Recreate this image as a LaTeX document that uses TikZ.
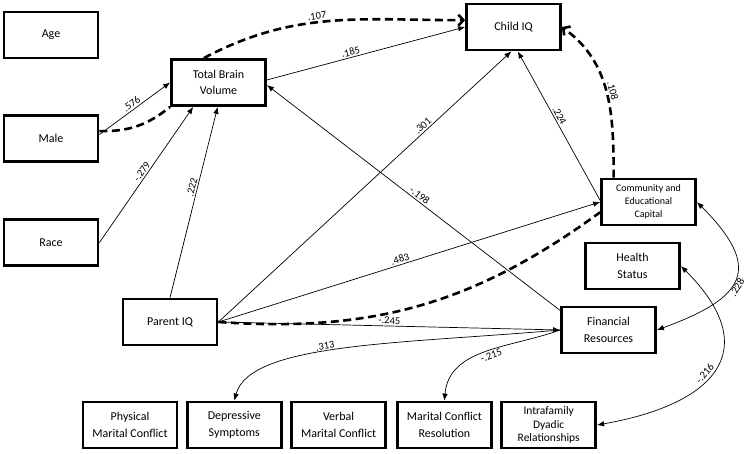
\documentclass[tikz,border=0pt]{standalone}
\usepackage{fontspec}
\setmainfont{Carlito}
\usetikzlibrary{arrows.meta, positioning}
\tikzset{
  sem/box/.style={rectangle, draw=black, fill=white, line width=2.8pt,
    minimum width=94pt, minimum height=46pt, align=center, inner sep=1pt,
    font=\fontsize{12}{16.5}\selectfont},
  sem/small/.style={font=\fontsize{10}{12.7}\selectfont},
  sem/three/.style={font=\fontsize{11.5}{13.5}\selectfont},
  sem/arr/.style={-{Latex[length=7pt,width=5.5pt]}, line width=0.7pt},
  sem/cov/.style={{Latex[length=7pt,width=5.5pt]}-{Latex[length=7pt,width=5.5pt]},
    line width=0.7pt},
  sem/ind/.style={line width=2.6pt, dash pattern=on 8pt off 4.5pt},
  sem/indarr/.style={sem/ind, -{Straight Barb[length=5pt,width=11pt]}},
  sem/lbl/.style={font=\fontsize{10.5}{11}\selectfont, sloped, inner sep=1.5pt}
}
\begin{document}
\begin{tikzpicture}[x=1pt, y=1pt, node distance=55pt and 7.5pt]
  \useasboundingbox (0,0) rectangle (750,453);
  % variables
  \node[sem/box] (age) at (51,418) {Age};
  \node[sem/box, below=of age] (male) {Male};
  \node[sem/box, below=of male] (race) {Race};
  \node[sem/box] (tbv) at (218.5,370.5) {Total Brain\\Volume};
  \node[sem/box] (childiq) at (513.5,426) {Child IQ};
  \node[sem/box, sem/small] (commcap) at (648.5,251) {Community and\\Educational\\Capital};
  \node[sem/box] (health) at (632.5,187) {Health\\Status};
  \node[sem/box] (finres) at (608.5,123) {Financial\\Resources};
  \node[sem/box] (parentiq) at (170,131) {Parent IQ};
  \node[sem/box] (physmc) at (130,28) {Physical\\Marital Conflict};
  \node[sem/box, right=of physmc] (depsym) {Depressive\\Symptoms};
  \node[sem/box, right=of depsym] (verbmc) {Verbal\\Marital Conflict};
  \node[sem/box, right=9pt of verbmc] (mcres) {Marital Conflict\\Resolution};
  \node[sem/box, sem/three, right=of mcres] (intradyad) {Intrafamily\\Dyadic\\Relationships};

  % direct paths
  \draw[sem/arr] (male.5) -- node[sem/lbl, above]{.576} (tbv.west);
  \draw[sem/arr] (race.east) -- node[sem/lbl, above]{-.279} (tbv.224);
  \draw[sem/arr] (parentiq.north) -- node[sem/lbl, above, pos=0.57]{.222} (tbv.-92);
  \draw[sem/arr] (tbv.3) -- node[sem/lbl, above, pos=0.43]{.185} (childiq.west);
  \draw[sem/arr] (finres.158) -- node[sem/lbl, above, pos=0.49]{-.198} (tbv.-3);
  \draw[sem/arr] (parentiq.east) -- node[sem/lbl, above, pos=0.71]{.301} (childiq.-95);
  \draw[sem/arr] (commcap.178) -- node[sem/lbl, above, pos=0.55]{.224} (childiq.-80);
  \draw[sem/arr] (parentiq.east) -- node[sem/lbl, above, pos=0.48]{.483} (commcap.west);
  \draw[sem/arr] (parentiq.east) -- node[sem/lbl, above]{-.245} (finres.west);

  % indirect effects
  \draw[sem/ind] (male.9) to[bend right=20] (tbv.south west);
  \draw[sem/indarr] (tbv.121) to[out=28, in=180] node[sem/lbl, above, pos=0.45]{.107} (childiq.172);
  \draw[sem/ind] (parentiq.east) to[bend right=20] (commcap.192);
  \draw[sem/indarr] (commcap.145) to[out=90, in=-36] node[sem/lbl, above]{.108} (childiq.east);

  % correlations
  \draw[sem/arr] (finres.west) to[out=185, in=75, out distance=160pt, in distance=60pt]
        node[sem/lbl, above, pos=0.55]{.313} (depsym.north);
  \draw[sem/arr] (finres.west) to[out=200, in=85] node[sem/lbl, below, pos=0.47]{-.215} (mcres.north);
  \draw[sem/cov] (commcap.east) to[out=-45, in=20, looseness=1.8] node[sem/lbl, below, pos=0.55]{.228} (finres.east);
  \draw[sem/cov] (health.east) to[out=-45, in=10, looseness=1.7] node[sem/lbl, above, pos=0.55]{-.216} (intradyad.east);
\end{tikzpicture}
\end{document}
